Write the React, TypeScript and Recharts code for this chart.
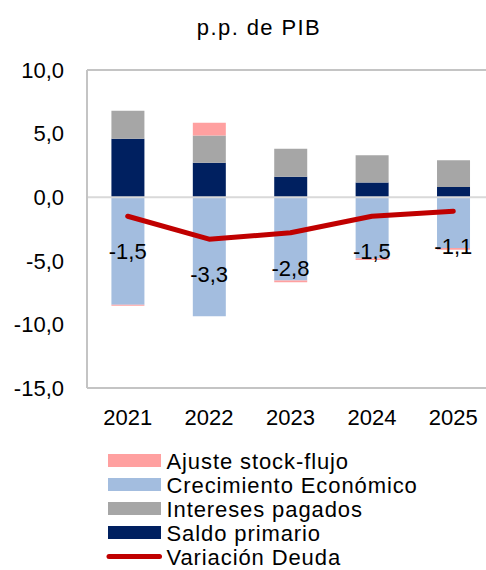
import { Bar, ComposedChart, LabelList, Legend, Line, ReferenceLine, XAxis, YAxis } from "recharts";

const years = ["2021", "2022", "2023", "2024", "2025"];
const saldoPrimario = [4.6, 2.7, 1.6, 1.15, 0.8];
const interesesPagados = [2.2, 2.15, 2.2, 2.15, 2.1];
const crecimientoEconomico = [-8.45, -9.35, -6.55, -4.8, -4.0];
const ajusteStockFlujo = [-0.08, 1.0, -0.13, -0.13, -0.13];
const variacionDeuda = [-1.5, -3.3, -2.8, -1.5, -1.1];
const yTicks = [-15, -10, -5, 0, 5, 10];

const legendOrder = ["ajuste", "crecimiento", "intereses", "saldo", "variacion"];

const chartData = years.map((year, i) => ({
  year,
  saldo: saldoPrimario[i],
  intereses: interesesPagados[i],
  crecimiento: crecimientoEconomico[i],
  ajuste: ajusteStockFlujo[i],
  variacion: variacionDeuda[i],
}));

const FONT = '"Liberation Sans", Arial, sans-serif';
const BORDER = "#C4C4C4";
const fmt = (v: number) => v.toFixed(1).replace(".", ",");

function VariacionLabel(props: any) {
  const { x, y, value } = props;
  return (
    <text x={x} y={y + 43} textAnchor="middle" fontSize={22} fill="#000" fontFamily={FONT}>
      {fmt(Number(value))}
    </text>
  );
}

// legend drawn from the payload, in the order of the original chart
function DeudaLegend({ payload }: any) {
  const items = legendOrder
    .map((k) => (payload || []).find((p: any) => p.dataKey === k))
    .filter(Boolean);
  return (
    <svg width={340} height={120} style={{ display: "block" }}>
      {items.map((item: any, i: number) => {
        const cy = 12.5 + i * 24;
        return (
          <g key={item.dataKey}>
            {item.type === "line" ? (
              <line x1={9} x2={59.5} y1={cy} y2={cy} stroke={item.color} strokeWidth={5} strokeLinecap="round" />
            ) : (
              <rect x={8} y={cy - 6.5} width={53} height={13} fill={item.color} />
            )}
            <text x={66.5} y={cy + 8} fontSize={22} letterSpacing={0.9} fontFamily={FONT} fill="#000">
              {item.value}
            </text>
          </g>
        );
      })}
    </svg>
  );
}

export default function App() {
  return (
    <div
      style={{
        position: "absolute",
        left: 0,
        top: 0,
        width: 486,
        height: 570,
        overflow: "hidden",
        background: "#fff",
        fontFamily: FONT,
      }}
    >
      <div
        style={{
          position: "absolute",
          top: 17.4,
          left: 0,
          width: 518,
          textAlign: "center",
          fontSize: 22,
          lineHeight: "22px",
          letterSpacing: 1.4,
          color: "#000",
        }}
      >
        p.p. de PIB
      </div>
      <ComposedChart
        width={494}
        height={570}
        data={chartData}
        stackOffset="sign"
        barCategoryGap="30%"
        margin={{ top: 70, right: 0, bottom: 152, left: 0 }}
      >
        <XAxis
          dataKey="year"
          tickLine={false}
          axisLine={{ stroke: BORDER, strokeWidth: 2 }}
          tickSize={0}
          tickMargin={21}
          height={30}
          tick={{ fontSize: 22, fill: "#000", fontFamily: FONT }}
        />
        <YAxis
          domain={[-15, 10]}
          ticks={yTicks}
          tickFormatter={fmt}
          tickLine={false}
          axisLine={{ stroke: BORDER, strokeWidth: 2 }}
          tickSize={0}
          tickMargin={23}
          width={87}
          interval={0}
          tick={{ fontSize: 22, fill: "#000", fontFamily: FONT }}
        />
        <ReferenceLine y={10} stroke={BORDER} strokeWidth={2} />
        <Bar dataKey="saldo" name="Saldo primario" stackId="a" fill="#002060" isAnimationActive={false} />
        <Bar dataKey="intereses" name="Intereses pagados" stackId="a" fill="#A6A6A6" isAnimationActive={false} />
        <Bar dataKey="crecimiento" name="Crecimiento Económico" stackId="a" fill="#A3BDDF" isAnimationActive={false} />
        <Bar dataKey="ajuste" name="Ajuste stock-flujo" stackId="a" fill="#FFA0A0" isAnimationActive={false} />
        <ReferenceLine y={0} stroke="#D9D9D9" strokeWidth={2} />
        <Line
          dataKey="variacion"
          name="Variación Deuda"
          type="linear"
          stroke="#C00000"
          strokeWidth={5}
          strokeLinecap="round"
          strokeLinejoin="round"
          dot={false}
          activeDot={false}
          isAnimationActive={false}
        >
          <LabelList dataKey="variacion" content={VariacionLabel} />
        </Line>
        <Legend
          layout="vertical"
          align="center"
          verticalAlign="middle"
          content={DeudaLegend}
          wrapperStyle={{ position: "absolute", left: 100, top: 448, width: 340, height: 120 }}
        />
      </ComposedChart>
    </div>
  );
}
